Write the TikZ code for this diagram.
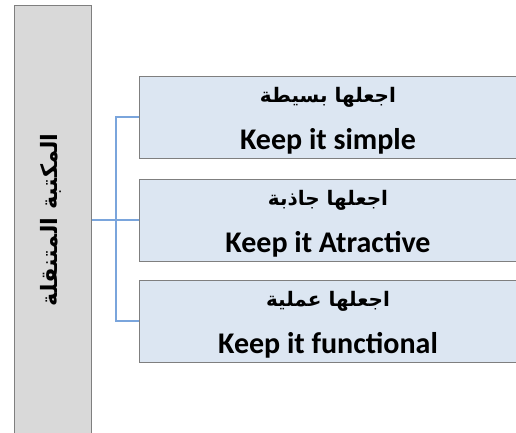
\documentclass[tikz,border=0pt]{standalone}
\usepackage{fontspec}
\setmainfont{Carlito}
\newfontfamily\arabicfont[Script=Arabic]{DejaVu Sans}
\TeXXeTstate=1
\usepackage{tikz}
\usetikzlibrary{positioning}
\definecolor{barfill}{HTML}{D9D9D9}
\definecolor{boxfill}{HTML}{DCE6F2}
\definecolor{rim}{HTML}{7F7F7F}
\definecolor{linkblue}{HTML}{7AA5DC}

\newcommand{\artext}[1]{{\arabicfont\fontsize{20}{24}\selectfont\rule{0pt}{22pt}\beginR #1\endR}}
\newcommand{\entext}[1]{{\fontsize{30}{32}\selectfont #1}}

\begin{document}
\begin{tikzpicture}[x=1pt,y=1pt,
    bar/.style={fill=barfill, draw=rim, line width=1pt, minimum width=77pt, minimum height=432pt, inner sep=0pt},
    tip/.style={fill=boxfill, draw=rim, line width=1pt, minimum width=378pt, minimum height=82pt, inner sep=0pt, align=center, font=\bfseries},
    link/.style={linkblue, line width=2pt}]
      \useasboundingbox (0,0) rectangle (516,-432);
      \clip (0,0) rectangle (516,-432);

      \node[bar] (library) at (52.5,-221) {};
      \node[rotate=90, font=\arabicfont\bfseries\fontsize{22.5}{24}\selectfont] (title) at (51,-220) {\beginR المكتبة المتنقلة\endR};

      \node[tip] (simple) at (328,-117) {\artext{اجعلها بسيطة}\\[20pt] \entext{Keep it simple}};
      \node[tip] (attractive) at (328,-220) {\artext{اجعلها جاذبة}\\[20pt] \entext{Keep it Atractive}};
      \node[tip] (functional) at (328,-321) {\artext{اجعلها عملية}\\[20pt] \entext{Keep it functional}};

      \draw[link] (library.east |- attractive.west) -- ++(24,0) coordinate (hub);
      \draw[link] (simple.west) -| (hub) |- (functional.west);
      \draw[link] (hub) -- (attractive.west);
    \end{tikzpicture}
\end{document}
